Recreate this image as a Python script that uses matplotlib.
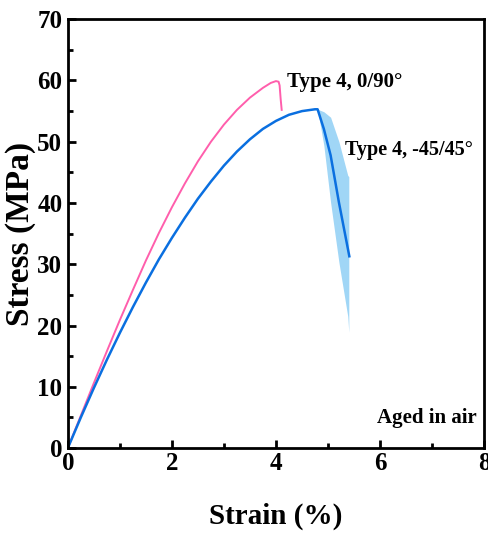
import matplotlib
matplotlib.use("Agg")
import matplotlib.pyplot as plt
from matplotlib.ticker import MultipleLocator

# Type 4, 0/90 deg (pink)
strain_090 = [0, 0.25, 0.5, 0.75, 1.0, 1.25, 1.5, 1.75, 2.0, 2.25, 2.5, 2.75,
              3.0, 3.25, 3.5, 3.75, 3.9, 4.0, 4.05, 4.07, 4.09, 4.11]
stress_090 = [0, 5.3, 10.6, 15.8, 20.9, 25.8, 30.6, 35.1, 39.3, 43.2, 46.8, 50.0,
              52.8, 55.2, 57.2, 58.8, 59.6, 59.9, 59.8, 59.2, 57.0, 55.2]

# Type 4, -45/45 deg (blue)
strain_45 = [0, 0.25, 0.5, 0.75, 1.0, 1.25, 1.5, 1.75, 2.0, 2.25, 2.5, 2.75,
             3.0, 3.25, 3.5, 3.75, 4.0, 4.25, 4.5, 4.75, 4.8, 4.92, 5.05, 5.21, 5.41]
stress_45 = [0, 5.0, 9.8, 14.4, 18.8, 23.0, 27.0, 30.8, 34.3, 37.6, 40.7, 43.5,
             46.1, 48.4, 50.4, 52.1, 53.4, 54.4, 55.0, 55.3, 55.3, 52.1, 47.8, 40.1, 31.3]

# scatter band after failure
band_strain = [4.8, 4.92, 5.05, 5.21, 5.38, 5.40]
band_upper = [55.3, 54.9, 54.0, 50.0, 44.5, 44.3]
band_lower = [55.3, 49.4, 40.1, 30.3, 21.5, 18.9]

plt.rcParams['font.family'] = ['Liberation Serif', 'DejaVu Serif']
plt.rcParams['font.weight'] = 'bold'

fig = plt.figure(figsize=(4.88, 5.34), dpi=100)
ax = fig.add_axes([0.139, 0.161, 0.853, 0.803])

ax.fill_between(band_strain, band_lower, band_upper, color='#a0d6f6', lw=0)
ax.plot(strain_090, stress_090, color='#ff5eac', lw=1.4)
ax.plot(strain_45, stress_45, color='#0a6fe0', lw=1.8)

ax.text(4.21, 59.7, 'Type 4, 0/90°', fontsize=15, fontweight='bold', va='center')
ax.text(5.33, 48.6, 'Type 4, -45/45°', fontsize=14.5, fontweight='bold', va='center')
ax.text(7.86, 4.9, 'Aged in air', fontsize=15, fontweight='bold', va='center', ha='right')

ax.set_xlim(0, 8)
ax.set_ylim(0, 70)
ax.xaxis.set_major_locator(MultipleLocator(2))
ax.xaxis.set_minor_locator(MultipleLocator(1))
ax.yaxis.set_major_locator(MultipleLocator(10))
ax.yaxis.set_minor_locator(MultipleLocator(5))
ax.tick_params(which='major', direction='in', length=6, width=2, labelsize=18)
ax.tick_params(axis='x', which='major', pad=3)
ax.tick_params(axis='y', which='major', pad=4)
ax.tick_params(which='minor', direction='in', length=3.5, width=2)
for lab in ax.get_xticklabels() + ax.get_yticklabels():
    lab.set_fontweight('bold')
for sp in ax.spines.values():
    sp.set_linewidth(2)

ax.set_xlabel('Strain (%)', fontsize=21, fontweight='bold', labelpad=20)
ax.set_ylabel('Stress (MPa)', fontsize=24, fontweight='bold', labelpad=1)

fig.savefig('out.png', dpi=100)
